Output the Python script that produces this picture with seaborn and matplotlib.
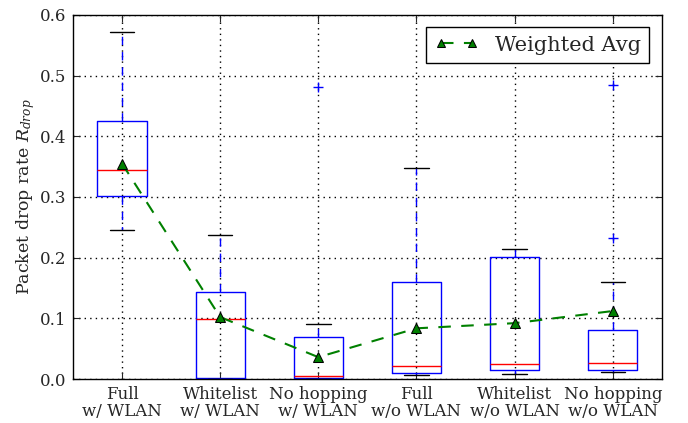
import matplotlib
matplotlib.use("Agg")
import matplotlib.pyplot as plt
import seaborn as sns

sns.set_style("ticks")
plt.rcParams['font.family'] = ['DejaVu Serif']
plt.rcParams['mathtext.fontset'] = 'dejavuserif'

# box statistics
categories = ["Full\nw/ WLAN", "Whitelist\nw/ WLAN", "No hopping\nw/ WLAN",
              "Full\nw/o WLAN", "Whitelist\nw/o WLAN", "No hopping\nw/o WLAN"]
whisker_low = [0.246, 0.000, 0.000, 0.0066, 0.009, 0.0115]
q1 = [0.302, 0.002, 0.001, 0.0104, 0.015, 0.015]
median = [0.345, 0.099, 0.0045, 0.022, 0.025, 0.027]
q3 = [0.425, 0.143, 0.070, 0.160, 0.2016, 0.081]
whisker_high = [0.571, 0.237, 0.090, 0.347, 0.215, 0.159]
outliers = [[], [], [0.481], [], [], [0.484, 0.233]]
weighted_avg = [0.355, 0.102, 0.036, 0.0835, 0.092, 0.112]

positions = list(range(1, len(categories) + 1))
stats = [dict(whislo=whisker_low[i], q1=q1[i], med=median[i], q3=q3[i],
              whishi=whisker_high[i], fliers=outliers[i])
         for i in range(len(categories))]

fig = plt.figure(figsize=(6.88, 4.23), dpi=100)
ax = fig.add_axes([0.106, 0.104, 0.856, 0.861])

ax.bxp(stats, positions=positions, widths=0.5, showfliers=True,
       boxprops=dict(color="blue", linewidth=1),
       whiskerprops=dict(color="blue", linestyle=(0, (6, 5)), linewidth=1),
       capprops=dict(color="black", linewidth=1),
       medianprops=dict(color="red", linewidth=1),
       flierprops=dict(marker="+", markeredgecolor="blue", markersize=7,
                       linestyle="none"))

sns.lineplot(x=positions, y=weighted_avg, ax=ax, color="green",
             linestyle=(0, (6, 5)), marker="^", markersize=7.5,
             markerfacecolor="green", markeredgecolor="black",
             label="Weighted Avg", zorder=5)

ax.set_xlim(0.5, 6.5)
ax.set_ylim(0, 0.6)
ax.set_xticks(positions)
ax.set_xticklabels(categories, fontsize=12, linespacing=1.0)
ax.set_yticks([0.0, 0.1, 0.2, 0.3, 0.4, 0.5, 0.6])
ax.set_yticklabels(["0.0", "0.1", "0.2", "0.3", "0.4", "0.5", "0.6"], fontsize=12)
ax.set_ylabel("Packet drop rate $R_{drop}$", fontsize=12.5, labelpad=2)
ax.grid(True, linestyle=(0, (1, 3)), color="black", linewidth=1)
ax.tick_params(direction="in", top=True, right=True, length=5, width=0.8, pad=5)
for s in ax.spines.values():
    s.set_color("black")
    s.set_linewidth(1)

ax.legend(loc="upper right", numpoints=2, fontsize=15, fancybox=False,
          framealpha=1, edgecolor="black", handlelength=2.1, markerscale=0.8,
          borderaxespad=0.6)

fig.savefig("out.png", dpi=100)
